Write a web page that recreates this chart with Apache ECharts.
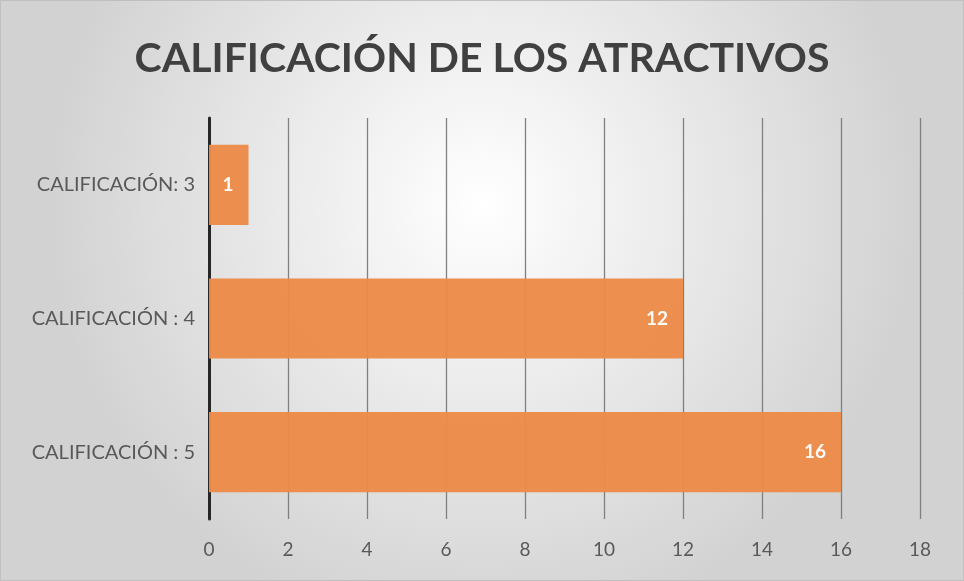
<!DOCTYPE html>
<html><head><meta charset="utf-8">
<script src="https://cdn.jsdelivr.net/npm/echarts@6/dist/echarts.min.js"></script>
<style>html,body{margin:0;padding:0;background:#fff}#c{width:964px;height:581px}</style>
</head><body><div id="c"></div>
<script>
const titleText = 'CALIFICACIÓN DE LOS ATRACTIVOS';
const categories = ['CALIFICACIÓN : 5', 'CALIFICACIÓN : 4', 'CALIFICACIÓN: 3'];
const values = [16, 12, 1];
const xTicks = [0, 2, 4, 6, 8, 10, 12, 14, 16, 18];

const chart = echarts.init(document.getElementById('c'));
chart.setOption({
  backgroundColor: {
    type: 'radial', x: 0.5, y: 0.35, r: 0.75,
    colorStops: [{offset: 0, color: '#ffffff'}, {offset: 1, color: '#d2d2d2'}]
  },
  title: {
    text: titleText, left: 'center', top: 33,
    textStyle: {fontFamily: 'Lato', fontWeight: 'bold', fontSize: 41, color: '#404040'}
  },
  grid: {left: 209, right: 44, top: 118, bottom: 62, containLabel: false},
  xAxis: {
    type: 'value', min: xTicks[0], max: xTicks[xTicks.length - 1], interval: 2,
    axisLine: {show: false}, axisTick: {show: false},
    splitLine: {show: true, lineStyle: {color: '#808080', width: 1.3}},
    axisLabel: {color: '#595959', fontFamily: 'Lato', fontSize: 19, margin: 21}
  },
  yAxis: {
    type: 'category', data: categories,
    axisLine: {show: true, lineStyle: {color: '#262626', width: 3}},
    axisTick: {show: false},
    axisLabel: {color: '#595959', fontFamily: 'Lato', fontSize: 20, margin: 14}
  },
  series: [{
    type: 'bar', data: values, barCategoryGap: '40%',
    itemStyle: {color: '#ec8a47', opacity: 0.96},
    label: {show: true, position: 'insideRight', distance: 15, color: '#ffffff',
      fontFamily: 'Lato', fontWeight: 'bold', fontSize: 19}
  }],
  graphic: [{type: 'rect', shape: {x: 0.5, y: 0.5, width: 963, height: 580},
    style: {fill: 'none', stroke: '#bfbfbf', lineWidth: 1}}]
});
</script></body></html>
